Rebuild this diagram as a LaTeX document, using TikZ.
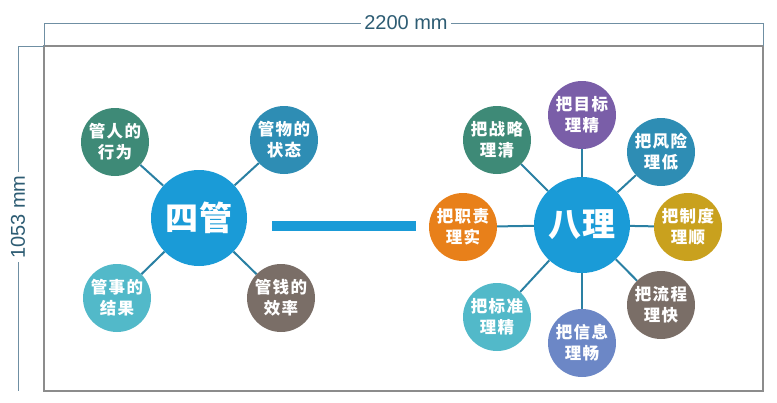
\documentclass[tikz,border=0pt]{standalone}
\usepackage{fontspec}
\setmainfont{Liberation Sans}
\newfontfamily\cjk[LetterSpace=8]{Noto Sans CJK SC}
\newfontfamily\cjkbig[LetterSpace=4]{Noto Sans CJK SC}
\definecolor{cblue}{HTML}{1A9BD7}
\definecolor{spokec}{HTML}{2A80A3}
\definecolor{dimc}{HTML}{6F8FA3}
\definecolor{dimtext}{HTML}{2D5C73}
\definecolor{framec}{HTML}{8C8C8C}
\definecolor{cgreen}{HTML}{3E8A77}
\definecolor{cteal}{HTML}{2E8DB4}
\definecolor{clteal}{HTML}{52B9C9}
\definecolor{cbrown}{HTML}{7A6E67}
\definecolor{cpurple}{HTML}{7A5EA8}
\definecolor{cgold}{HTML}{C9A11E}
\definecolor{cslate}{HTML}{6C87C6}
\definecolor{corange}{HTML}{E8801A}
\begin{document}
\begin{tikzpicture}[x=1pt,y=-1pt,
  small/.style={circle, minimum size=68pt, inner sep=0pt, text=white, align=center,
    font=\cjk\bfseries\fontsize{16.5}{21}\selectfont},
  big/.style={circle, minimum size=96pt, inner sep=0pt, fill=cblue, text=white,
    font=\cjkbig\bfseries\fontsize{33}{38}\selectfont},
  spoke/.style={draw=spokec, line width=2pt},
  dimline/.style={draw=dimc, line width=0.8pt},
  dimlab/.style={fill=white, inner xsep=3pt, inner ysep=1pt, text=dimtext,
    font=\fontsize{20}{22}\selectfont}]
\useasboundingbox (0,0) rectangle (777,402);
% frame
\draw[framec, line width=1.5pt] (44,46) rectangle (763,391);
% dimensions
\coordinate (hl) at (44,23); \coordinate (hr) at (763,23);
\coordinate (hlb) at (44,46); \coordinate (hrb) at (763,46);
\draw[dimline] (hl) -- (hr);
\draw[dimline] (hl) -- (hlb);
\draw[dimline] (hr) -- (hrb);
\node[dimlab] (wlab) at (406,23) {2200 mm};
\coordinate (vt) at (18,46); \coordinate (vb) at (18,391);
\coordinate (vtr) at (44,46);
\draw[dimline] (vt) -- (vb);
\draw[dimline] (vt) -- (vtr);
\node[dimlab, rotate=90] (hlab) at (18,217) {1053 mm};
% left hub
\node[big] (sg) at (199,218) {四管};
\node[small, fill=cgreen] (a1) at (115,142) {管人的\\行为};
\node[small, fill=cteal] (a2) at (284,140) {管物的\\状态};
\node[small, fill=clteal] (a3) at (117,298) {管事的\\结果};
\node[small, fill=cbrown] (a4) at (281,298) {管钱的\\效率};
\foreach \n in {a1,a2,a3,a4} \draw[spoke] (sg) -- (\n);
% right hub
\node[big] (bl) at (582,225) {八理};
\node[small, fill=cpurple] (b1) at (582,115) {把目标\\理精};
\node[small, fill=cteal] (b2) at (661,152) {把风险\\理低};
\node[small, fill=cgold] (b3) at (688,227) {把制度\\理顺};
\node[small, fill=cbrown] (b4) at (661,305) {把流程\\理快};
\node[small, fill=cslate] (b5) at (582,343) {把信息\\理畅};
\node[small, fill=clteal] (b6) at (497,317) {把标准\\理精};
\node[small, fill=corange] (b7) at (463,227) {把职责\\理实};
\node[small, fill=cgreen] (b8) at (497,140) {把战略\\理清};
\foreach \n in {b1,b2,b3,b4,b5,b6,b7,b8} \draw[spoke] (bl) -- (\n);
% connecting bar
\coordinate (barl) at (272,226); \coordinate (barr) at (416,226);
\draw[cblue, line width=10pt] (barl) -- (barr);
\end{tikzpicture}
\end{document}
